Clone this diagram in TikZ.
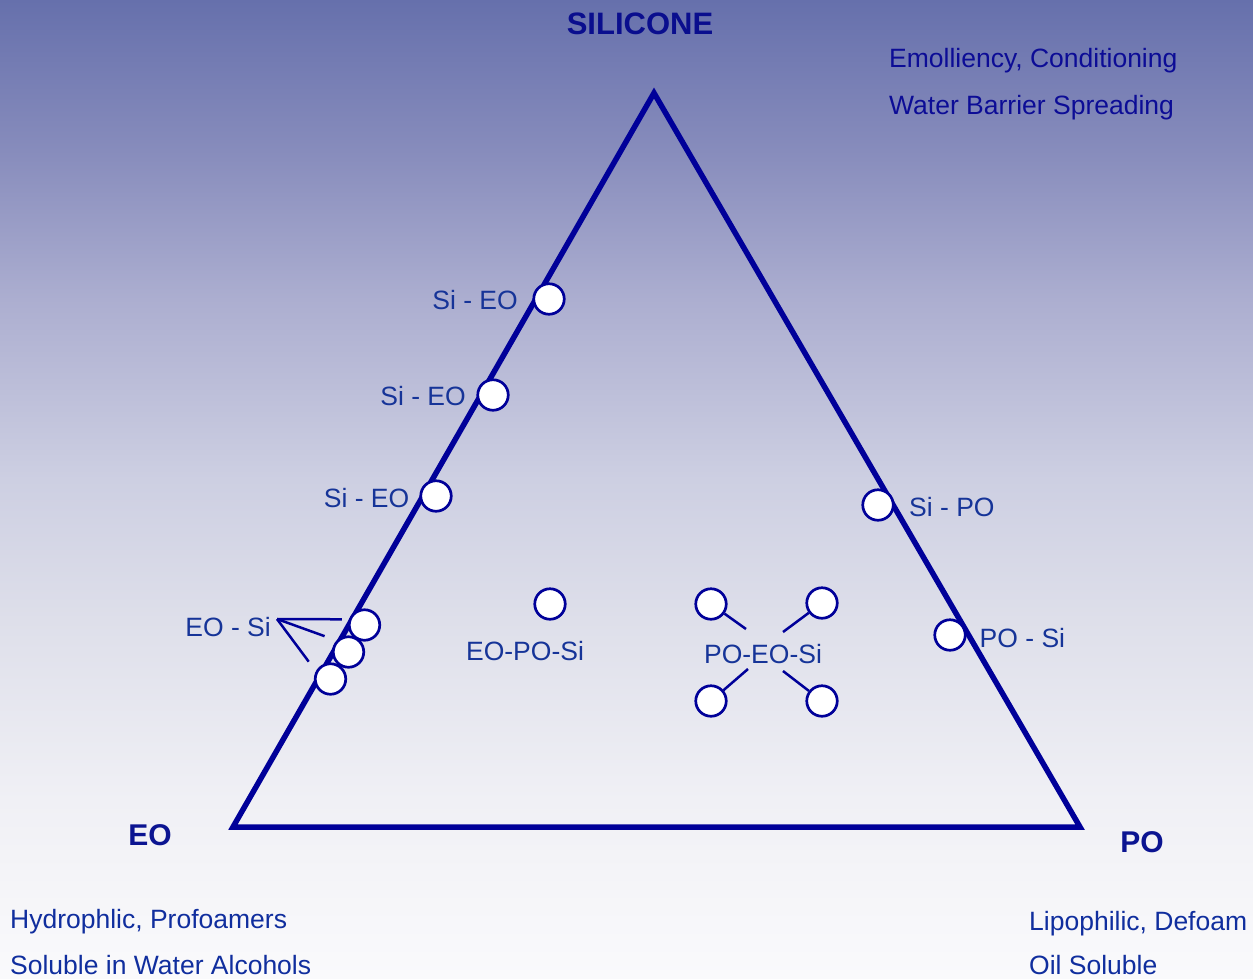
\documentclass[tikz,border=0pt]{standalone}
\usepackage{fontspec}
\setmainfont{Liberation Sans}
\usetikzlibrary{shapes, calc, positioning}

\definecolor{navy}{RGB}{0,0,153}
\definecolor{lblblue}{RGB}{22,52,152}
\definecolor{topblue}{RGB}{12,12,150}
\definecolor{botblue}{RGB}{16,46,158}
\definecolor{headblue}{RGB}{10,14,142}
\definecolor{bg0}{RGB}{250,250,252}
\definecolor{bg1}{RGB}{240,240,245}
\definecolor{bg2}{RGB}{222,223,234}
\definecolor{bg3}{RGB}{205,207,226}
\definecolor{bg4}{RGB}{172,174,208}
\definecolor{bg5}{RGB}{135,140,188}
\definecolor{bg6}{RGB}{102,112,172}
\pgfdeclareverticalshading{bgfade}{100bp}{color(0bp)=(bg0); color(25bp)=(bg0);
  color(34.1bp)=(bg1); color(43.3bp)=(bg2); color(50.5bp)=(bg3);
  color(59.7bp)=(bg4); color(67.3bp)=(bg5); color(75bp)=(bg6); color(100bp)=(bg6)}

\begin{document}
\begin{tikzpicture}[x=1pt, y=-1pt,
    ball/.style={circle, draw=navy, fill=white, line width=2.7pt, minimum size=30.5pt, inner sep=0pt},
    stem/.style={navy, line width=2.5pt},
    head/.style={font=\fontsize{30}{34}\bfseries\selectfont, inner sep=0pt}]
    \shade[shading=bgfade] (0,0) rectangle (1253,978);
    \useasboundingbox (0,0) rectangle (1253,978);

    \coordinate (Si) at (654,93);
    \coordinate (EO) at (233,827);
    \coordinate (PO) at (1080,827);
    \draw[navy, line width=5.5pt, line join=miter] (Si) -- (EO) -- (PO) -- cycle;

    \node[head, text=headblue, anchor=base] (HSi) at (640,34) {\fontsize{31}{34}\selectfont SILICONE};
    \node[head, text=headblue!80!botblue, anchor=base] (HEO) at (150,845) {EO};
    \node[head, text=headblue!80!botblue, anchor=base] (HPO) at (1142,852) {PO};

    \foreach \n/\x/\y in {1/549/299, 2/493/395, 3/436/496, 4/878/505, 5/950/635,
        6/364.5/625, 7/348.5/652, 8/330.5/679, 9/550/604,
        10/711/604, 11/822/603, 12/711/701, 13/822/701}{
        \node[ball] (N\n) at (\x,\y) {};
    }

    \begin{scope}[every node/.style = {font=\fontsize{26.5}{30}\selectfont, inner sep=0pt}]
        \node[text=lblblue, anchor=base east] (L1) at (518,309) {Si - EO};
        \node[text=lblblue, anchor=base east] (L2) at (466,405) {Si - EO};
        \node[text=lblblue, anchor=base east] (L3) at (409.5,507) {Si - EO};
        \node[text=lblblue, anchor=base west] (L4) at (909,516) {Si - PO};
        \node[text=lblblue, anchor=base west] (L5) at (979.5,647) {PO - Si};
        \node[text=lblblue, anchor=base east] (L6) at (271,636) {EO - Si};
        \node[text=lblblue, anchor=base] (L9) at (525,660) {EO-PO-Si};
        \node[text=lblblue, anchor=base] (L10) at (763,663) {PO-EO-Si};

        \node[text=topblue, anchor=base west] (T1) at (889,67) {Emolliency, Conditioning};
        \node[text=topblue, anchor=base west] (T2) at (889,114) {Water Barrier Spreading};
        \node[text=botblue, anchor=base west] (B1) at (10,928) {Hydrophlic, Profoamers};
        \node[text=botblue, anchor=base west] (B2) at (10,974) {Soluble in Water Alcohols};
        \node[text=botblue, anchor=base west] (B3) at (1029,930) {Lipophilic, Defoam};
        \node[text=botblue, anchor=base west] (B4) at (1029,974) {Oil Soluble};
    \end{scope}

    \coordinate (tip) at (277,619);
    \draw[stem, shorten >=7pt] (tip) -- (N6.160);
    \draw[stem, shorten >=12.7pt] (tip) -- (N7.136);
    \draw[stem, shorten >=11.9pt] (tip) -- (N8.152);

    \coordinate (t10) at (746,629);
    \coordinate (t11) at (783,632);
    \coordinate (t12) at (748,669);
    \coordinate (t13) at (783,671);
    \draw[stem] (N10) -- (t10);
    \draw[stem] (N11) -- (t11);
    \draw[stem] (N12) -- (t12);
    \draw[stem] (N13) -- (t13);
\end{tikzpicture}
\end{document}
